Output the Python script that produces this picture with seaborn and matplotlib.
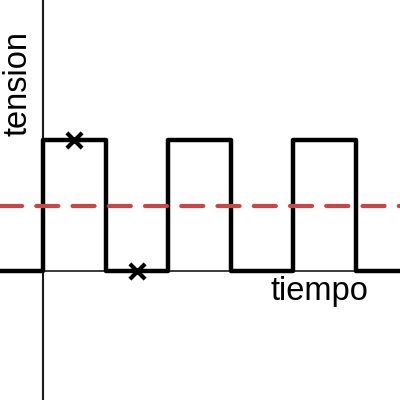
import matplotlib
matplotlib.use("Agg")
import matplotlib.pyplot as plt
import seaborn as sns
import pandas as pd

sns.set_style("white")
plt.rcParams['font.family'] = ['Liberation Sans', 'DejaVu Sans']
plt.rcParams['text.color'] = 'black'

# square wave (step edges) and levels
t_edges = [-0.7, 0, 1, 2, 3, 4, 5, 5.8]
v_levels = [0, 1, 0, 1, 0, 1, 0, 0]
mean_level = 0.5
marker_t = [0.5, 1.5]
marker_v = [1, 0]
x_label = "tiempo"
y_label = "tension"

df = pd.DataFrame({"t": t_edges, "v": v_levels})
mk = pd.DataFrame({"t": marker_t, "v": marker_v})

fig = plt.figure(figsize=(4, 4), dpi=100)
ax = fig.add_axes([0, 0, 1, 1])

xmin, xmax = -43 / 62.5, (400 - 43) / 62.5
ymin, ymax = -(400 - 271) / 131, 271 / 131

ax.axvline(0, color="#1a1a1a", lw=1.5, zorder=1)
ax.axhline(0, color="#1a1a1a", lw=1.2, zorder=1)

sns.lineplot(data=df, x="t", y="v", drawstyle="steps-post", estimator=None,
             sort=False, color="black", lw=3.2, ax=ax, zorder=3)
ax.axhline(mean_level, color="#cc4444", lw=3, dashes=(5.3, 3.4),
           dash_capstyle="round", zorder=4)
sns.scatterplot(data=mk, x="t", y="v", marker="x", s=120, color="black",
                linewidth=3, ax=ax, zorder=5)

ax.text(4.42, -0.221, x_label, fontsize=23.5, ha="center", va="baseline",
        color="black")
ax.text(-0.256, 1.43, y_label, fontsize=23.5, rotation=90,
        rotation_mode="anchor", ha="center", va="baseline", color="black")

ax.set_xlim(xmin, xmax)
ax.set_ylim(ymin, ymax)
ax.set_axis_off()
fig.savefig("out.png", dpi=100)
